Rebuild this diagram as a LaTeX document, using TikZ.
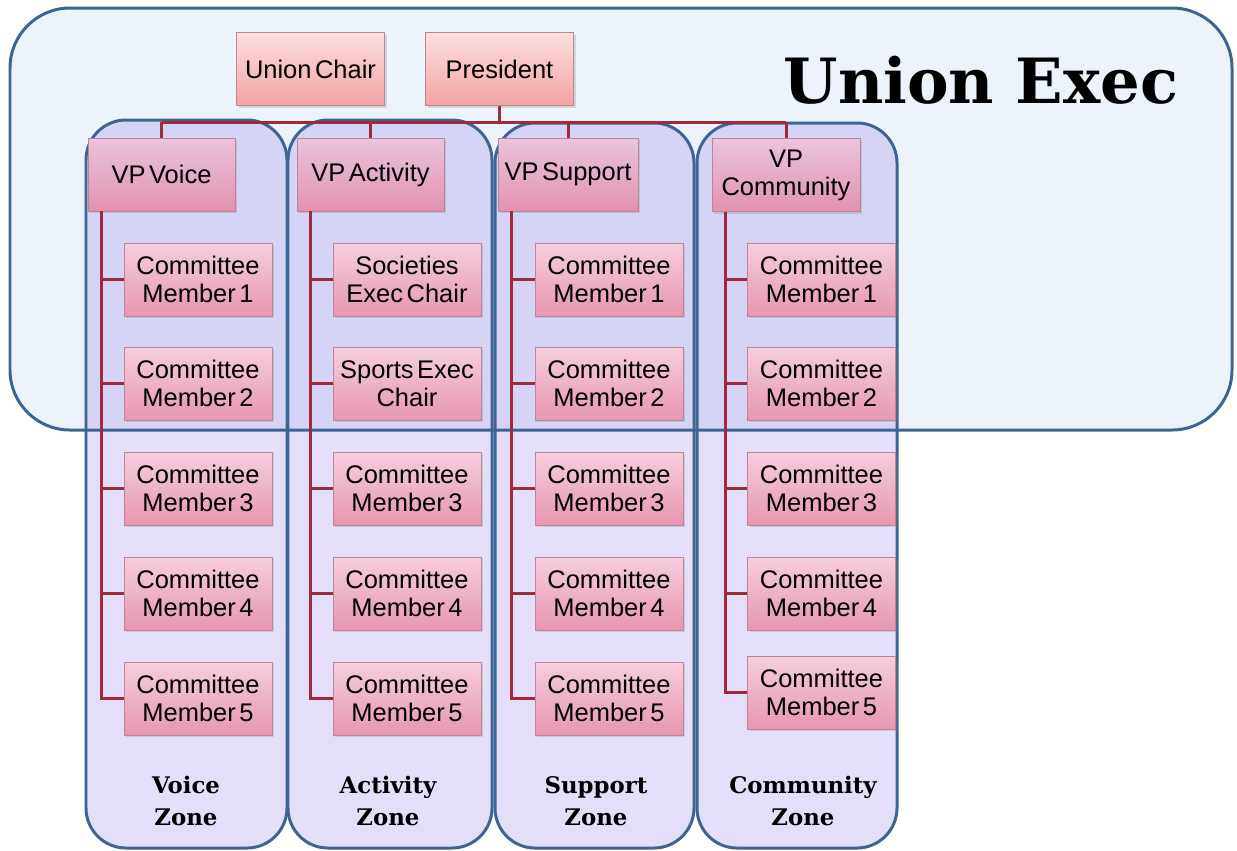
\documentclass[tikz,border=0pt]{standalone}
\usepackage{fontspec}
\setmainfont{Liberation Sans}[WordSpace=0.5]
\newfontfamily\slabfont{DejaVu Serif}
\usetikzlibrary{shadows}

\definecolor{execfill}{RGB}{237,243,251}
\definecolor{zoneline}{RGB}{62,100,148}
\definecolor{zonefill}{RGB}{147,123,227}
\definecolor{linkred}{RGB}{158,42,62}
\definecolor{boxedge}{RGB}{185,135,150}
\definecolor{chairtop}{RGB}{253,222,222}
\definecolor{chairbot}{RGB}{243,164,166}
\definecolor{vptop}{RGB}{234,196,222}
\definecolor{vpbot}{RGB}{226,145,174}
\definecolor{memtop}{RGB}{246,206,222}
\definecolor{membot}{RGB}{231,150,176}

\begin{document}
\begin{tikzpicture}[x=0.02cm, y=-0.02cm,
  link/.style={draw=linkred, line width=1.7pt},
  box/.style={draw=boxedge, line width=0.5pt, minimum height=1.46cm, align=center,
    font=\fontsize{14.5}{16}\selectfont, inner sep=1pt,
    drop shadow={shadow xshift=1.2pt, shadow yshift=-1.2pt, opacity=0.25}},
  topbox/.style={box, top color=chairtop, bottom color=chairbot, minimum width=2.96cm},
  vpbox/.style={box, top color=vptop, bottom color=vpbot},
  membox/.style={box, top color=memtop, bottom color=membot, minimum width=2.96cm},
  zonebox/.style={rounded corners=0.8cm},
  zonelabel/.style={font=\slabfont\bfseries\fontsize{13}{18}\selectfont, align=center}]

\useasboundingbox (0,0) rectangle (1237,850);

% background panels
\fill[execfill, rounded corners=1.2cm] (10,8) rectangle (1232,430);
\fill[zonefill, fill opacity=0.25, zonebox] (86,120) rectangle (287,848);
\fill[zonefill, fill opacity=0.25, zonebox] (288,120) rectangle (492,848);
\fill[zonefill, fill opacity=0.25, zonebox] (495,123) rectangle (694,848);
\fill[zonefill, fill opacity=0.25, zonebox] (697,123) rectangle (897,848);
\draw[zoneline, line width=1.7pt, rounded corners=1.2cm] (10,8) rectangle (1232,430);
\draw[zoneline, line width=1.7pt, zonebox] (86,120) rectangle (287,848);
\draw[zoneline, line width=1.7pt, zonebox] (288,120) rectangle (492,848);
\draw[zoneline, line width=1.7pt, zonebox] (495,123) rectangle (694,848);
\draw[zoneline, line width=1.7pt, zonebox] (697,123) rectangle (897,848);

\node[font=\slabfont\bfseries\fontsize{35.5}{40}\selectfont] (title) at (981,80) {Union Exec};

% exec
\node[topbox] (chair) at (310.5,69) {Union Chair};
\node[topbox] (pres) at (499.5,69) {President};

\node[vpbox, minimum width=2.94cm] (vpvoice) at (161.5,174.5) {VP Voice};
\node[vpbox, minimum width=2.94cm] (vpact) at (370.5,174.5) {VP Activity};
\node[vpbox, minimum width=2.8cm] (vpsup) at (568,174.5) {VP Support};
\node[vpbox, minimum width=2.96cm] (vpcom) at (786,175) {VP\\Community};

% voice
\node[membox] (voice1) at (198,279.5) {Committee\\Member 1};
\node[membox] (voice2) at (198,383.5) {Committee\\Member 2};
\node[membox] (voice3) at (198,488.5) {Committee\\Member 3};
\node[membox] (voice4) at (198,593.5) {Committee\\Member 4};
\node[membox] (voice5) at (198,698.5) {Committee\\Member 5};

% activity
\node[membox] (act1) at (407,279.5) {Societies\\Exec Chair};
\node[membox] (act2) at (407,383.5) {Sports Exec\\Chair};
\node[membox] (act3) at (407,488.5) {Committee\\Member 3};
\node[membox] (act4) at (407,593.5) {Committee\\Member 4};
\node[membox] (act5) at (407,698.5) {Committee\\Member 5};

% support
\node[membox] (sup1) at (609,279.5) {Committee\\Member 1};
\node[membox] (sup2) at (609,383.5) {Committee\\Member 2};
\node[membox] (sup3) at (609,488.5) {Committee\\Member 3};
\node[membox] (sup4) at (609,593.5) {Committee\\Member 4};
\node[membox] (sup5) at (609,698.5) {Committee\\Member 5};

% community
\node[membox] (com1) at (821.5,279.5) {Committee\\Member 1};
\node[membox] (com2) at (821.5,383.5) {Committee\\Member 2};
\node[membox] (com3) at (821.5,488.5) {Committee\\Member 3};
\node[membox] (com4) at (821.5,593.5) {Committee\\Member 4};
\node[membox] (com5) at (821.5,692.5) {Committee\\Member 5};

\node[zonelabel] (voicezone) at (186,801) {Voice\\Zone};
\node[zonelabel] (actzone) at (388,801) {Activity\\Zone};
\node[zonelabel] (supzone) at (596,801) {Support\\Zone};
\node[zonelabel] (comzone) at (803,801) {Community\\Zone};

% connectors
\coordinate (busl) at (vpvoice.north |- 0,122);
\coordinate (busr) at (vpcom.north |- 0,122);
\draw[link] (busl) -- (busr);
\draw[link] (pres.south) -- (pres.south |- busl);
\draw[link] (vpvoice.north) -- (busl);
\draw[link] (vpact.north) -- (vpact.north |- busl);
\draw[link] (vpsup.north) -- (vpsup.north |- busl);
\draw[link] (vpcom.north) -- (busr);

\draw[link] ([xshift=0.28cm]vpvoice.south west) coordinate (vspine) |- (voice5.west);
\draw[link] (vspine |- voice1.west) -- (voice1.west);
\draw[link] (vspine |- voice2.west) -- (voice2.west);
\draw[link] (vspine |- voice3.west) -- (voice3.west);
\draw[link] (vspine |- voice4.west) -- (voice4.west);

\draw[link] ([xshift=0.28cm]vpact.south west) coordinate (aspine) |- (act5.west);
\draw[link] (aspine |- act1.west) -- (act1.west);
\draw[link] (aspine |- act2.west) -- (act2.west);
\draw[link] (aspine |- act3.west) -- (act3.west);
\draw[link] (aspine |- act4.west) -- (act4.west);

\draw[link] ([xshift=0.28cm]vpsup.south west) coordinate (sspine) |- (sup5.west);
\draw[link] (sspine |- sup1.west) -- (sup1.west);
\draw[link] (sspine |- sup2.west) -- (sup2.west);
\draw[link] (sspine |- sup3.west) -- (sup3.west);
\draw[link] (sspine |- sup4.west) -- (sup4.west);

\draw[link] ([xshift=0.28cm]vpcom.south west) coordinate (cspine) |- (com5.west);
\draw[link] (cspine |- com1.west) -- (com1.west);
\draw[link] (cspine |- com2.west) -- (com2.west);
\draw[link] (cspine |- com3.west) -- (com3.west);
\draw[link] (cspine |- com4.west) -- (com4.west);

\end{tikzpicture}
\end{document}
